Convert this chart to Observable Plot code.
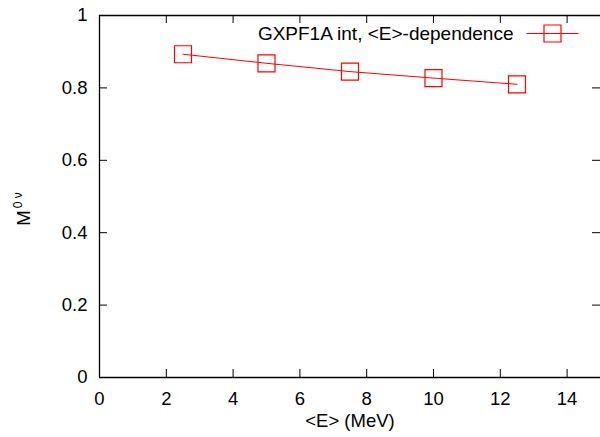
<!DOCTYPE html>
<html><head><meta charset="utf-8">
<script src="https://cdn.jsdelivr.net/npm/d3@7"></script>
<script src="https://cdn.jsdelivr.net/npm/@observablehq/plot@0.6"></script>
<style>body{margin:0;background:#fff}</style>
</head><body><div id="chart"></div>
<script>
const energies = [2.5, 5, 7.5, 10, 12.5];
const matrixElements = [0.893, 0.868, 0.845, 0.827, 0.810];
const xTicks = [0, 2, 4, 6, 8, 10, 12, 14];
const yTicks = [0, 0.2, 0.4, 0.6, 0.8, 1];
const seriesLabel = "GXPF1A int, <E>-dependence";
const xLabel = "<E> (MeV)";
const yLabelMain = "M";
const yLabelSup = "0 ν";

const data = energies.map((e, i) => ({e, m: matrixElements[i]}));

const W = 600, H = 437, mL = 99, mT = 15, mB = 60, mR = 0;
const fw = W - mL - mR, fh = H - mT - mB;
const red = "#ff0000";
const font = "'Liberation Sans', Arial, Helvetica, sans-serif";
const fs = 18.5;
const half = 8.5;
const squareSym = {draw(ctx) {
  ctx.moveTo(-half, -half); ctx.lineTo(half, -half); ctx.lineTo(half, half); ctx.lineTo(-half, half); ctx.closePath();
}};
const legendSym = {draw(ctx) {
  ctx.moveTo(-26, 0); ctx.lineTo(26, 0);
  ctx.moveTo(-half, -half); ctx.lineTo(half, -half); ctx.lineTo(half, half); ctx.lineTo(-half, half); ctx.closePath();
}};

const chart = Plot.plot({
  width: W, height: H,
  marginLeft: mL, marginTop: mT, marginBottom: mB, marginRight: mR,
  style: {fontFamily: font, fontSize: fs + "px", background: "#fff", color: "#000"},
  x: {domain: [0, 15]},
  y: {domain: [0, 1]},
  marks: [
    Plot.axisX({ticks: xTicks, tickSize: 0, tickPadding: 14, fontSize: fs, tickFormat: d => String(d), label: null}),
    Plot.axisY({ticks: yTicks, tickSize: 0, tickPadding: 12, fontSize: fs, tickFormat: d => String(d), label: null}),
    // inward ticks on all four sides
    Plot.tickX(xTicks, {x: d => d, insetTop: fh - 8, stroke: "#000", strokeWidth: 1}),
    Plot.tickX(xTicks, {x: d => d, insetBottom: fh - 8, stroke: "#000", strokeWidth: 1}),
    Plot.tickY(yTicks, {y: d => d, insetRight: fw - 8, stroke: "#000", strokeWidth: 1}),
    Plot.tickY(yTicks, {y: d => d, insetLeft: fw - 8, stroke: "#000", strokeWidth: 1}),
    // border (left, top, bottom)
    Plot.ruleX([0], {stroke: "#000", strokeWidth: 1.3}),
    Plot.ruleY([0, 1], {stroke: "#000", strokeWidth: 1.3}),
    // series
    Plot.line(data, {x: "e", y: "m", stroke: red, strokeWidth: 1}),
    Plot.dot(data, {x: "e", y: "m", symbol: squareSym, r: 5, stroke: red, strokeWidth: 1.2, fill: "none"}),
    // legend
    Plot.text([seriesLabel], {frameAnchor: "top-right", dx: -87, dy: 18, textAnchor: "end", lineAnchor: "middle", fontSize: 19, fill: "#000"}),
    Plot.dot([seriesLabel], {frameAnchor: "top-right", dx: -48, dy: 18, symbol: legendSym, r: 5, stroke: red, strokeWidth: 1.2, fill: "none"}),
    // x label
    Plot.text([xLabel], {frameAnchor: "bottom", dy: 44, lineAnchor: "middle", fontSize: fs, fill: "#000"})
  ]
});

// y label with superscript
const svg = d3.select(chart);
const yl = svg.append("text")
  .attr("transform", `translate(30,209) rotate(-90)`)
  .attr("font-family", font)
  .attr("font-size", fs)
  .attr("fill", "#000");
yl.append("tspan").text(yLabelMain);
yl.append("tspan").attr("font-size", 12).attr("dy", -8).attr("dx", 2).text(yLabelSup);

document.getElementById("chart").appendChild(chart);
</script>
</body></html>
